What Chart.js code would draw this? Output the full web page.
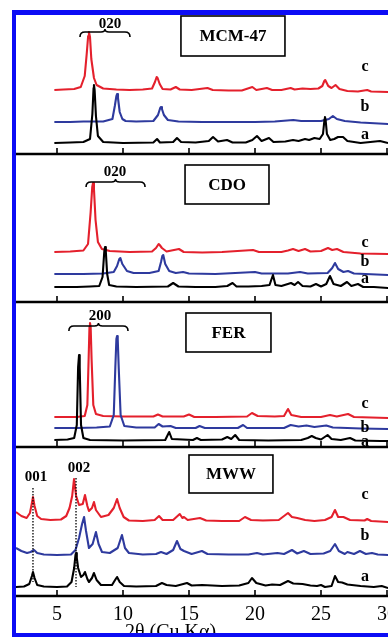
<!DOCTYPE html>
<html>
<head>
<meta charset="utf-8">
<script src="https://cdn.jsdelivr.net/npm/chart.js@4.4.1/dist/chart.umd.min.js"></script>
<style>
html, body { margin: 0; padding: 0; background: #fff; }
#page { position: relative; width: 388px; height: 637px; overflow: hidden; background: #fff; }
#page canvas { position: absolute; left: 16px; }
.frame {
    position: absolute; left: 12px; top: 10px; width: 420px; height: 618px;
    border-left: 4px solid #0c0cf5; border-top: 5px solid #0c0cf5; border-bottom: 4px solid #0c0cf5;
    z-index: 5; pointer-events: none;
}
</style>
</head>
<body>
<div id="page">
    <canvas id="p0"></canvas>
    <canvas id="p1"></canvas>
    <canvas id="p2"></canvas>
    <canvas id="p3"></canvas>
    <div class="frame"></div>
</div>
<script>
// x axis: 2-theta (degrees), y: relative intensity
const X_TICKS = [5, 10, 15, 20, 25, 30];
const X_MIN = 1.894;
const X_MAX = 30.076;

// MCM-47
const MCM_A = [[4.8,11],[6.0,11.5],[7.0,12],[7.5,15],[7.68,40],[7.77,66],[7.8,69],[7.85,64],[7.95,38],[8.1,18],[8.5,12],[10,11],[12.3,11.5],[12.58,15],[12.8,11.5],[13.8,12],[14.09,16],[14.4,12],[15.5,11.5],[16.5,13],[16.82,17],[17.2,12.5],[17.88,14],[18.3,11.5],[19.3,11.5],[19.8,14],[20.15,18],[20.5,13],[21.06,16],[21.4,12],[22.3,12.5],[22.88,14],[23.3,13],[23.79,15],[24.1,14],[24.5,16],[24.9,15],[25.15,20],[25.27,35],[25.3,37],[25.35,34],[25.45,20],[25.7,14],[26.0,15],[26.29,17],[26.67,17],[27.0,13],[28.0,11],[29.47,13],[30.08,11]];
const MCM_B = [[4.8,32],[6.0,32],[7.0,32.5],[8.5,32.5],[9.2,35],[9.38,48],[9.5,58],[9.55,60],[9.62,56],[9.75,42],[9.95,35],[10.2,33],[11.0,32.5],[12.3,33],[12.65,39],[12.82,46],[12.88,47],[12.95,45],[13.1,39],[13.4,34],[14.2,32.5],[16.0,32],[18.0,32],[20.0,32],[21.5,32.5],[22.9,34],[23.5,33],[25.0,33],[25.6,35],[25.9,38],[26.2,35],[26.8,33],[28.0,31.5],[30.08,30]];
const MCM_C = [[4.8,64],[5.5,64.5],[6.3,65],[6.8,67],[7.1,78],[7.25,100],[7.36,118],[7.42,122],[7.5,117],[7.6,95],[7.8,76],[8.0,69],[8.5,65.5],[9.5,64.5],[10.5,64],[11.5,64.5],[12.2,65.5],[12.42,72],[12.55,77],[12.62,76],[12.78,70],[13.0,65],[13.6,64.5],[14.0,67],[14.3,64.5],[15.2,64],[16.4,66],[16.8,64],[18.0,63.5],[19.0,63.5],[19.8,67],[20.1,64],[20.9,66],[21.3,64],[22.0,64],[22.7,66],[23.0,64.5],[23.6,65.5],[24.2,65],[24.8,65.5],[25.1,68],[25.25,73],[25.32,74],[25.55,68],[25.8,66],[26.1,69],[26.4,65],[27.0,63],[27.8,62.5],[28.5,64],[28.8,62.5],[30.08,62]];

// CDO
const CDO_A = [[4.8,15],[6.5,15],[7.5,15.5],[8.2,16],[8.45,25],[8.58,50],[8.64,55],[8.7,50],[8.8,28],[8.95,17],[9.5,15.5],[11.0,15],[13.4,15.5],[13.8,19],[14.2,15.5],[15.5,15],[17.0,15],[17.9,16],[18.3,19],[18.6,15.5],[19.5,15.5],[20.5,16],[21.1,17],[21.36,27],[21.55,17],[22.0,16],[22.73,19],[23.0,17],[23.26,20],[23.6,16],[24.2,15.5],[24.62,18],[25.0,15.5],[25.4,18],[25.68,26],[25.95,18],[26.5,16],[26.97,20],[27.3,16],[27.8,18],[28.2,15],[29.0,15],[30.08,14]];
const CDO_B = [[4.8,28],[7.0,28],[8.5,28.5],[9.3,30],[9.55,36],[9.72,43],[9.8,44],[9.95,38],[10.3,31],[10.8,29],[12.0,29],[12.7,31],[12.88,40],[12.98,46],[13.05,47],[13.2,38],[13.5,31],[14.0,29],[14.55,30],[15.0,28.5],[17.0,28],[20.0,30],[20.5,28.5],[22.5,28.5],[23.41,30],[24.0,28.5],[25.5,29],[25.85,34],[26.06,39],[26.3,33],[26.7,30],[27.05,31],[27.5,28.5],[30.08,27]];
const CDO_C = [[4.8,50],[6.0,50.5],[7.0,51.5],[7.35,58],[7.55,90],[7.67,115],[7.73,119],[7.8,113],[7.92,82],[8.1,60],[8.4,53],[9.0,51],[10.5,50],[12.2,50.5],[12.5,54],[12.7,58],[12.78,57],[12.95,54],[13.3,50.5],[14.24,53],[14.6,50],[16.0,49.5],[17.5,50],[19.85,52],[20.3,50],[22.0,50],[22.5,51.5],[22.88,53],[23.3,51],[23.79,53],[24.2,50.5],[25.0,51],[25.53,54],[25.85,52],[26.21,53],[26.7,50],[28.0,48.5],[30.08,48]];

// FER
const FER_A = [[4.8,7],[5.8,7.5],[6.3,9],[6.5,22],[6.6,80],[6.67,92],[6.72,80],[6.82,22],[7.0,9],[7.5,7],[10,6.5],[13.2,7],[13.5,15],[13.7,8],[15.3,7],[15.6,9],[15.9,7],[17.5,7.5],[17.9,10],[18.2,8],[18.5,12],[18.8,7],[21,6.5],[23.5,7],[24.0,9],[24.3,11],[24.6,9],[25.0,7.5],[25.5,12],[25.8,8],[26.5,7],[27.2,9],[27.6,6.5],[29.5,6],[30.08,6]];
const FER_B = [[4.8,19],[6.5,19],[8.0,19.5],[9.0,20.5],[9.3,32],[9.42,80],[9.5,108],[9.55,111],[9.6,108],[9.68,78],[9.82,32],[10.1,21],[11,19.5],[12.4,19.5],[12.7,23],[13.0,20.5],[13.6,21],[14.0,19],[15.5,19],[15.8,21],[16.2,19],[18.7,19],[19.1,22],[19.4,19],[22.2,19],[22.7,22],[23.3,20.5],[23.9,21.5],[24.5,20],[25.4,21.5],[25.9,19.5],[27.0,19],[28.0,18.5],[30.08,18]];
const FER_C = [[4.8,30],[6.5,30],[7.1,31],[7.3,42],[7.4,90],[7.46,120],[7.5,124],[7.55,120],[7.62,88],[7.75,42],[7.95,33],[8.5,31],[10,30.5],[12.3,30.5],[12.65,32.5],[13.0,30.5],[14.6,30.5],[15.0,32.5],[15.4,30],[17,30],[19.4,30.5],[19.77,34],[20.2,31],[21.5,30.5],[22.2,31],[22.5,38],[22.75,32],[23.5,30],[25,30],[25.68,32],[26.2,30.5],[27.05,33],[27.5,30],[30.08,29]];

// MWW
const MWW_A = [[1.89,9],[2.5,9.5],[2.9,12],[3.1,20],[3.18,24],[3.3,18],[3.5,11],[4.0,9.5],[5.0,9],[5.76,9.5],[6.1,14],[6.3,28],[6.4,41],[6.44,43],[6.5,38],[6.6,28],[6.82,19],[7.0,21],[7.12,24],[7.3,17],[7.42,14],[7.65,18],[7.8,23],[8.0,16],[8.33,11],[9.17,11],[9.4,16],[9.55,19],[9.75,14],[10.08,10],[11.0,9.5],[12.5,10],[12.95,13],[13.3,11],[14.0,10],[14.85,13],[15.2,10.5],[16.0,11],[17.5,10],[18.8,10.5],[19.5,13],[19.77,18],[20.1,13],[20.8,10.5],[21.3,11.5],[21.9,11],[22.5,15],[22.9,12.5],[23.6,12],[24.2,10.5],[24.7,10],[25.0,11],[25.3,9],[25.8,10],[26.06,20],[26.3,14],[26.6,13.5],[27.0,11.5],[28.0,10],[29.0,9],[29.6,10],[30.08,8]];
const MWW_B = [[1.89,48],[2.3,45],[2.73,43],[3.0,44],[3.26,46],[3.5,43],[4.0,41.5],[5.0,41],[6.06,41.5],[6.4,46],[6.67,58],[6.9,72],[7.05,79],[7.2,65],[7.42,48],[7.7,52],[7.95,64],[8.15,52],[8.41,44],[9.0,43],[9.6,48],[9.92,61],[10.15,48],[10.45,43],[11.5,41.5],[12.5,42],[12.88,44],[13.3,42],[13.8,46],[14.09,55],[14.35,47],[14.62,45],[15.2,42],[15.98,45],[16.4,42],[18.0,41.5],[19.5,41.5],[20.15,43],[20.6,41.5],[21.7,43],[22.2,42],[22.8,46],[23.2,42.5],[23.7,45],[24.2,42],[25.2,42.5],[25.7,45],[26.06,52],[26.35,45],[26.8,42],[27.0,44],[27.5,42],[27.95,45],[28.4,42],[28.86,43],[29.3,41.5],[30.08,41]];
const MWW_C = [[1.89,84],[2.3,80],[2.7,78],[2.95,83],[3.1,93],[3.18,99],[3.3,90],[3.5,80],[3.8,77],[4.5,76],[5.3,76.5],[5.7,80],[5.95,88],[6.15,100],[6.29,117],[6.45,100],[6.67,91],[6.95,92],[7.12,101],[7.3,90],[7.42,85],[7.65,88],[7.8,94],[7.95,86],[8.33,79],[8.9,81],[9.3,88],[9.55,97],[9.75,88],[10.05,79],[10.45,75.5],[11.5,75],[12.4,76],[12.73,80],[13.0,76],[13.8,76],[14.3,82],[14.5,78],[14.62,79],[14.9,76],[15.83,78],[16.3,75.5],[17.5,75],[18.8,75],[19.24,79],[19.7,76],[20.6,75.5],[21.8,76],[22.5,83],[22.8,79],[23.2,78],[23.8,76],[24.5,75],[25.3,76],[25.8,79],[26.06,86],[26.3,79],[26.7,79],[27.2,76],[28.3,75.5],[28.5,77],[28.8,75],[30.08,74]];

const SERIES_COLORS = { a: '#000000', b: '#2e3a9e', c: '#e4202c' };
const SERIF = '"Liberation Serif", "Times New Roman", serif';

const PANELS = [
    { id: 'p0', name: 'MCM-47', top: 15, axis: 154, pad: 4, data: [MCM_A, MCM_B, MCM_C],
      box: [14.39, 22.27, 138, 98], letterY: [19, 47, 87],
      hkl: [{ text: '020', x: 9.02, y: 130 }], brace: [6.74, 10.53, 122] },
    { id: 'p1', name: 'CDO', top: 154, axis: 302, pad: 4, data: [CDO_A, CDO_B, CDO_C],
      box: [14.7, 21.06, 137, 98], letterY: [23, 40, 59],
      hkl: [{ text: '020', x: 9.39, y: 130 }], brace: [7.2, 11.67, 120] },
    { id: 'p2', name: 'FER', top: 302, axis: 447, pad: 4, data: [FER_A, FER_B, FER_C],
      box: [14.77, 21.21, 134, 95], letterY: [5, 19, 43],
      hkl: [{ text: '200', x: 8.26, y: 131 }], brace: [5.9, 10.38, 121] },
    { id: 'p3', name: 'MWW', top: 447, axis: 596, pad: 38, data: [MWW_A, MWW_B, MWW_C],
      box: [15.0, 21.36, 141, 103], letterY: [19, 60, 101],
      hkl: [{ text: '001', x: 3.41, y: 119 }, { text: '002', x: 6.67, y: 128 }],
      dotted: [[3.18, 108, 14], [6.44, 118, 9]], xLabels: true }
];

function drawBrace(ctx, x1, x2, y) {
    const xm = (x1 + x2) / 2;
    ctx.beginPath();
    ctx.moveTo(x1, y + 5);
    ctx.quadraticCurveTo(x1, y, x1 + 5, y);
    ctx.lineTo(xm - 4, y);
    ctx.quadraticCurveTo(xm, y, xm, y - 3);
    ctx.quadraticCurveTo(xm, y, xm + 4, y);
    ctx.lineTo(x2 - 5, y);
    ctx.quadraticCurveTo(x2, y, x2, y + 5);
    ctx.stroke();
}

// axis line, inward ticks and the text decorations of one panel
const panelDecor = {
    id: 'panelDecor',
    afterDatasetsDraw(chart, args, opts) {
        const p = opts.panel;
        const ctx = chart.ctx;
        const X = v => chart.scales.x.getPixelForValue(v);
        const Y = v => chart.scales.y.getPixelForValue(v);
        const y0 = Y(0);
        ctx.save();
        ctx.strokeStyle = '#000';
        ctx.fillStyle = '#000';

        ctx.lineWidth = 2.4;
        ctx.beginPath();
        ctx.moveTo(0, y0);
        ctx.lineTo(chart.width, y0);
        ctx.stroke();
        ctx.lineWidth = 1.6;
        X_TICKS.forEach(t => {
            ctx.beginPath();
            ctx.moveTo(X(t), y0);
            ctx.lineTo(X(t), y0 - 6);
            ctx.stroke();
        });

        // sample box
        ctx.lineWidth = 1.6;
        const [bx1, bx2, by1, by2] = p.box;
        ctx.strokeRect(X(bx1), Y(by1), X(bx2) - X(bx1), Y(by2) - Y(by1));
        ctx.font = 'bold 17px ' + SERIF;
        ctx.textAlign = 'center';
        ctx.textBaseline = 'middle';
        ctx.fillText(p.name, (X(bx1) + X(bx2)) / 2, (Y(by1) + Y(by2)) / 2 + 1);

        // a, b, c
        ctx.font = 'bold 16px ' + SERIF;
        ['a', 'b', 'c'].forEach((l, i) => ctx.fillText(l, X(28.33), Y(p.letterY[i])));

        // reflection labels
        ctx.font = 'bold 15px ' + SERIF;
        p.hkl.forEach(h => ctx.fillText(h.text, X(h.x), Y(h.y)));
        if (p.brace) {
            ctx.lineWidth = 1.6;
            drawBrace(ctx, X(p.brace[0]), X(p.brace[1]), Y(p.brace[2]));
        }
        if (p.dotted) {
            ctx.lineWidth = 1.3;
            ctx.setLineDash([1.5, 1.5]);
            p.dotted.forEach(d => {
                ctx.beginPath();
                ctx.moveTo(X(d[0]), Y(d[1]));
                ctx.lineTo(X(d[0]), Y(d[2]));
                ctx.stroke();
            });
            ctx.setLineDash([]);
        }

        if (p.xLabels) {
            ctx.font = '20px ' + SERIF;
            ctx.textBaseline = 'alphabetic';
            X_TICKS.forEach(t => ctx.fillText(String(t), X(t), y0 + 24));
            ctx.fillText('2\u03b8 (Cu K\u03b1)', X(13.6), y0 + 42);
        }
        ctx.restore();
    }
};

PANELS.forEach(p => {
    const canvas = document.getElementById(p.id);
    const h = p.axis - p.top;
    canvas.width = 372;
    canvas.height = h + p.pad;
    canvas.style.top = p.top + 'px';

    new Chart(canvas.getContext('2d'), {
        type: 'line',
        data: {
            datasets: ['a', 'b', 'c'].map((k, i) => ({
                label: k,
                data: p.data[i],
                borderColor: SERIES_COLORS[k],
                borderWidth: 2.1,
                borderJoinStyle: 'round',
                pointRadius: 0,
                tension: 0,
                fill: false
            }))
        },
        options: {
            responsive: false,
            maintainAspectRatio: false,
            animation: false,
            layout: { padding: { left: 0, right: 0, top: 0, bottom: p.pad } },
            scales: {
                x: { type: 'linear', min: X_MIN, max: X_MAX, display: false },
                y: { type: 'linear', min: 0, max: h, display: false }
            },
            plugins: {
                legend: { display: false },
                tooltip: { enabled: false },
                panelDecor: { panel: p }
            }
        },
        plugins: [panelDecor]
    });
});
</script>
</body>
</html>
